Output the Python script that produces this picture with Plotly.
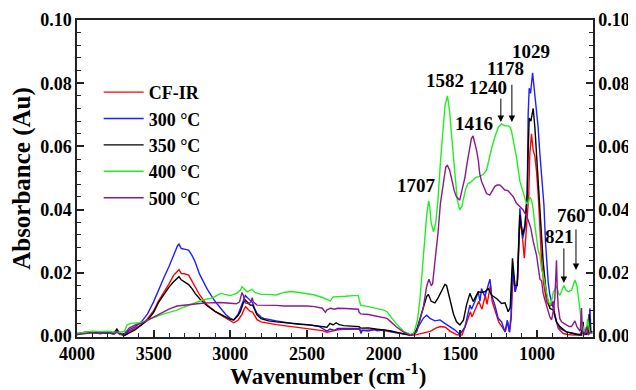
import plotly.graph_objects as go

# ---------------- data ----------------
wn_cfir = [4000, 3950, 3900, 3850, 3800, 3760, 3740, 3720, 3690, 3660, 3620, 3580, 3540, 3500, 3470, 3435, 3400, 3370, 3345, 3335, 3320, 3300, 3272, 3250, 3230, 3200, 3150, 3100, 3050, 3000, 2978, 2950, 2925, 2910, 2900, 2885, 2870, 2855, 2840, 2826, 2800, 2750, 2700, 2650, 2600, 2550, 2500, 2450, 2400, 2370, 2350, 2320, 2300, 2261, 2200, 2160, 2150, 2100, 2050, 2000, 1950, 1900, 1850, 1826, 1800, 1761, 1720, 1696, 1660, 1630, 1598, 1565, 1522, 1489, 1457, 1435, 1424, 1402, 1380, 1359, 1337, 1326, 1304, 1293, 1272, 1250, 1228, 1207, 1191, 1178, 1168, 1157, 1141, 1126, 1113, 1098, 1083, 1070, 1054, 1047, 1040, 1036, 1030, 1025, 1014, 1003, 992, 981, 970, 955, 938, 920, 905, 894, 884, 862, 829, 800, 764, 721, 699, 688, 675, 666, 655, 640]
abs_cfir = [0.0005, 0.001, 0.0012, 0.001, 0.0012, 0.0008, 0.0015, 0.0008, 0.0003, 0.0015, 0.0025, 0.0035, 0.0055, 0.008, 0.011, 0.0136, 0.0165, 0.0192, 0.0205, 0.021, 0.0198, 0.0197, 0.0193, 0.0175, 0.0155, 0.013, 0.0098, 0.0078, 0.0063, 0.0048, 0.0042, 0.005, 0.0068, 0.0085, 0.0093, 0.0085, 0.0078, 0.0076, 0.0062, 0.0052, 0.0045, 0.004, 0.0036, 0.0033, 0.003, 0.0028, 0.0025, 0.0022, 0.0017, 0.0012, 0.0014, 0.0018, 0.002, 0.0021, 0.0022, 0.0022, 0.0018, 0.0019, 0.002, 0.0017, 0.0013, 0.001, 0.0005, 0.0002, 0.0003, 0.0008, 0.0013, 0.0015, 0.0025, 0.003, 0.0028, 0.0015, 0.0004, 0.0003, 0.0045, 0.0077, 0.0061, 0.0088, 0.011, 0.0085, 0.0129, 0.01, 0.016, 0.011, 0.0077, 0.0045, 0.0029, 0.0013, 0.0045, 0.0012, 0.006, 0.0203, 0.014, 0.018, 0.036, 0.033, 0.0246, 0.033, 0.0446, 0.0578, 0.063, 0.064, 0.061, 0.0588, 0.057, 0.052, 0.0446, 0.034, 0.0235, 0.016, 0.0109, 0.0095, 0.0098, 0.011, 0.0067, 0.0024, 0.0008, 0.0005, 0.0003, 0.0004, 0.0024, 0.0005, 0.001, 0.0045, 0.0008, 0.001]

wn_300 = [4000, 3950, 3900, 3850, 3800, 3760, 3740, 3720, 3690, 3660, 3620, 3580, 3540, 3500, 3470, 3435, 3400, 3370, 3345, 3335, 3320, 3300, 3272, 3250, 3230, 3200, 3150, 3100, 3065, 3030, 3000, 2978, 2950, 2935, 2915, 2902, 2885, 2870, 2855, 2840, 2826, 2800, 2783, 2700, 2652, 2600, 2550, 2478, 2420, 2390, 2370, 2350, 2320, 2300, 2261, 2200, 2160, 2152, 2148, 2140, 2100, 2060, 2043, 2000, 1960, 1935, 1900, 1848, 1826, 1800, 1780, 1761, 1742, 1720, 1698, 1666, 1633, 1601, 1568, 1535, 1503, 1470, 1438, 1427, 1405, 1383, 1372, 1362, 1340, 1318, 1307, 1296, 1275, 1253, 1231, 1209, 1194, 1181, 1170, 1160, 1144, 1129, 1112, 1094, 1079, 1064, 1058, 1051, 1042, 1029, 1020, 1014, 1003, 993, 982, 971, 960, 955, 945, 938, 927, 916, 905, 894, 873, 851, 808, 764, 721, 699, 677, 662, 655, 648, 640]
abs_300 = [0.0008, 0.001, 0.0013, 0.001, 0.0012, 0.0008, 0.0018, 0.0008, 0.0003, 0.002, 0.003, 0.0045, 0.007, 0.0109, 0.0145, 0.0183, 0.022, 0.0256, 0.0285, 0.0291, 0.0277, 0.0275, 0.0272, 0.0255, 0.0235, 0.0195, 0.0148, 0.011, 0.0088, 0.0068, 0.0056, 0.0051, 0.0068, 0.0088, 0.011, 0.0128, 0.012, 0.0114, 0.0105, 0.0085, 0.0072, 0.006, 0.0056, 0.0048, 0.0043, 0.004, 0.0037, 0.0035, 0.003, 0.0022, 0.0016, 0.0022, 0.0018, 0.0024, 0.0024, 0.0023, 0.0024, 0.0015, 0.0008, 0.0018, 0.0016, 0.0022, 0.0017, 0.002, 0.0015, 0.0012, 0.001, 0.0005, 0.0003, 0.0008, 0.0025, 0.004, 0.0056, 0.0066, 0.0056, 0.0048, 0.0051, 0.004, 0.003, 0.0019, 0.0005, 0.0029, 0.0098, 0.0085, 0.011, 0.014, 0.011, 0.015, 0.0125, 0.016, 0.018, 0.0129, 0.0098, 0.0056, 0.0045, 0.0013, 0.005, 0.0013, 0.006, 0.0214, 0.014, 0.017, 0.0404, 0.0309, 0.034, 0.045, 0.07, 0.0784, 0.0768, 0.0833, 0.079, 0.0768, 0.072, 0.0662, 0.058, 0.0504, 0.043, 0.0415, 0.03, 0.0235, 0.017, 0.0129, 0.011, 0.0088, 0.0045, 0.0024, 0.0013, 0.001, 0.0005, 0.0013, 0.0005, 0.002, 0.0088, 0.001, 0.0015]

wn_350 = [4000, 3950, 3900, 3850, 3800, 3760, 3740, 3720, 3690, 3660, 3620, 3580, 3540, 3500, 3470, 3435, 3400, 3370, 3345, 3335, 3320, 3300, 3272, 3250, 3230, 3200, 3150, 3100, 3050, 3000, 2978, 2950, 2935, 2915, 2902, 2885, 2870, 2855, 2840, 2826, 2800, 2750, 2700, 2650, 2600, 2550, 2500, 2450, 2400, 2370, 2350, 2330, 2310, 2290, 2261, 2200, 2160, 2150, 2100, 2043, 2000, 1950, 1900, 1848, 1826, 1800, 1785, 1760, 1742, 1720, 1709, 1690, 1666, 1646, 1620, 1601, 1590, 1568, 1545, 1525, 1503, 1480, 1460, 1438, 1416, 1400, 1383, 1362, 1340, 1318, 1296, 1264, 1231, 1209, 1188, 1175, 1160, 1144, 1129, 1112, 1094, 1079, 1064, 1058, 1051, 1040, 1025, 1014, 1003, 990, 981, 970, 960, 938, 916, 894, 873, 851, 808, 742, 710, 699, 694, 666, 660, 652, 640]
abs_350 = [0.0005, 0.0012, 0.0012, 0.0008, 0.001, 0.0008, 0.0022, 0.0006, 0.0002, 0.001, 0.002, 0.0035, 0.005, 0.0075, 0.0105, 0.013, 0.0155, 0.0172, 0.0185, 0.0188, 0.0178, 0.0172, 0.0163, 0.015, 0.0135, 0.0118, 0.0095, 0.0078, 0.0065, 0.0053, 0.0051, 0.0065, 0.0077, 0.0105, 0.0114, 0.0105, 0.0098, 0.0098, 0.008, 0.0067, 0.0055, 0.0048, 0.0045, 0.0042, 0.004, 0.0038, 0.0036, 0.0033, 0.003, 0.0028, 0.004, 0.0035, 0.0042, 0.0036, 0.0033, 0.0032, 0.003, 0.0025, 0.0026, 0.0022, 0.002, 0.0016, 0.001, 0.0005, 0.0003, 0.001, 0.002, 0.006, 0.009, 0.0125, 0.0132, 0.011, 0.0105, 0.012, 0.0145, 0.0163, 0.016, 0.0119, 0.007, 0.0045, 0.0035, 0.005, 0.0098, 0.0135, 0.0109, 0.0125, 0.014, 0.0138, 0.014, 0.015, 0.0129, 0.0119, 0.0103, 0.0105, 0.0077, 0.009, 0.0246, 0.016, 0.016, 0.0383, 0.032, 0.035, 0.045, 0.058, 0.069, 0.068, 0.072, 0.066, 0.0578, 0.047, 0.038, 0.030, 0.0235, 0.013, 0.0088, 0.0082, 0.0045, 0.003, 0.0013, 0.0005, 0.0003, 0.0045, 0.0005, 0.0008, 0.007, 0.001, 0.0015]

wn_400 = [4000, 3950, 3900, 3850, 3800, 3760, 3720, 3690, 3674, 3650, 3620, 3590, 3550, 3500, 3450, 3400, 3348, 3300, 3250, 3217, 3180, 3130, 3100, 3065, 3040, 3000, 2960, 2935, 2924, 2910, 2890, 2870, 2858, 2840, 2800, 2750, 2700, 2652, 2600, 2550, 2500, 2450, 2400, 2370, 2348, 2330, 2300, 2250, 2200, 2165, 2160, 2150, 2100, 2050, 2000, 1978, 1960, 1920, 1870, 1826, 1804, 1780, 1764, 1742, 1720, 1707, 1700, 1690, 1675, 1660, 1646, 1630, 1613, 1600, 1584, 1570, 1558, 1545, 1536, 1520, 1504, 1490, 1482, 1465, 1450, 1438, 1417, 1400, 1374, 1350, 1329, 1308, 1296, 1275, 1253, 1232, 1210, 1190, 1178, 1167, 1155, 1134, 1112, 1101, 1085, 1069, 1058, 1047, 1036, 1025, 1014, 1003, 992, 981, 971, 960, 950, 938, 927, 916, 905, 894, 884, 873, 860, 851, 840, 825, 810, 796, 775, 760, 753, 740, 731, 720, 710, 700, 694, 688, 677, 670, 662, 655, 640]
abs_400 = [0.0008, 0.0012, 0.0015, 0.0014, 0.0015, 0.0013, 0.0012, 0.0015, 0.0035, 0.004, 0.004, 0.0042, 0.0048, 0.0058, 0.0068, 0.0075, 0.0082, 0.0092, 0.0102, 0.0109, 0.0114, 0.0119, 0.0125, 0.0135, 0.0133, 0.0128, 0.0135, 0.0145, 0.0156, 0.0148, 0.014, 0.0145, 0.0148, 0.0138, 0.0132, 0.0132, 0.013, 0.0138, 0.0141, 0.0138, 0.0135, 0.013, 0.0122, 0.0115, 0.0111, 0.0124, 0.0124, 0.0126, 0.0128, 0.0128, 0.0115, 0.0098, 0.0093, 0.0088, 0.0082, 0.0077, 0.0065, 0.004, 0.0015, 0.0005, 0.0008, 0.005, 0.0114, 0.025, 0.038, 0.0428, 0.041, 0.0357, 0.033, 0.036, 0.043, 0.055, 0.066, 0.073, 0.076, 0.071, 0.064, 0.056, 0.050, 0.043, 0.0399, 0.041, 0.043, 0.0465, 0.0483, 0.0485, 0.0494, 0.0502, 0.0505, 0.0512, 0.0525, 0.0575, 0.0595, 0.063, 0.066, 0.0671, 0.0665, 0.0665, 0.0663, 0.065, 0.062, 0.0565, 0.049, 0.047, 0.0445, 0.042, 0.042, 0.044, 0.043, 0.040, 0.035, 0.030, 0.027, 0.0256, 0.021, 0.0195, 0.0165, 0.0129, 0.011, 0.0098, 0.011, 0.014, 0.0145, 0.016, 0.0135, 0.0129, 0.0145, 0.016, 0.0145, 0.014, 0.0145, 0.0172, 0.0177, 0.016, 0.013, 0.008, 0.0045, 0.003, 0.0012, 0.002, 0.0024, 0.0055, 0.002, 0.0008, 0.001]

wn_500 = [4000, 3950, 3900, 3850, 3800, 3760, 3740, 3720, 3690, 3660, 3620, 3580, 3540, 3500, 3450, 3400, 3348, 3300, 3250, 3200, 3150, 3100, 3065, 3000, 2960, 2940, 2924, 2915, 2902, 2880, 2866, 2858, 2850, 2826, 2800, 2700, 2652, 2600, 2550, 2500, 2450, 2400, 2385, 2380, 2372, 2348, 2320, 2300, 2250, 2200, 2165, 2160, 2150, 2100, 2050, 2000, 1978, 1960, 1920, 1870, 1826, 1800, 1783, 1764, 1742, 1720, 1705, 1690, 1681, 1666, 1646, 1630, 1613, 1595, 1584, 1570, 1558, 1540, 1526, 1504, 1490, 1471, 1455, 1439, 1428, 1417, 1405, 1395, 1383, 1374, 1362, 1341, 1329, 1308, 1290, 1276, 1260, 1243, 1225, 1210, 1190, 1167, 1155, 1134, 1112, 1090, 1070, 1058, 1040, 1025, 1003, 992, 981, 970, 960, 949, 938, 927, 916, 905, 894, 884, 878, 873, 868, 862, 851, 840, 825, 808, 790, 775, 760, 753, 740, 731, 718, 710, 705, 699, 688, 677, 666, 655, 640]
abs_500 = [0.0005, 0.0008, 0.001, 0.0008, 0.001, 0.0006, 0.0012, 0.0005, 0.0008, 0.0025, 0.0035, 0.004, 0.005, 0.0062, 0.0075, 0.0085, 0.0095, 0.0098, 0.0101, 0.0103, 0.0105, 0.0106, 0.0106, 0.0104, 0.0102, 0.0108, 0.0138, 0.0128, 0.0105, 0.0102, 0.0108, 0.0121, 0.0108, 0.0098, 0.0098, 0.0097, 0.0095, 0.0095, 0.0097, 0.0095, 0.0093, 0.0088, 0.0078, 0.0075, 0.0082, 0.0088, 0.0085, 0.0088, 0.0087, 0.0086, 0.0085, 0.0075, 0.007, 0.0068, 0.0064, 0.006, 0.0056, 0.0048, 0.003, 0.0012, 0.0003, 0.0005, 0.0015, 0.005, 0.009, 0.0156, 0.018, 0.016, 0.0165, 0.0235, 0.0325, 0.042, 0.0483, 0.0535, 0.054, 0.0525, 0.050, 0.046, 0.0441, 0.043, 0.046, 0.050, 0.055, 0.060, 0.0625, 0.0633, 0.061, 0.0589, 0.0557, 0.0515, 0.049, 0.0462, 0.0451, 0.0446, 0.046, 0.0473, 0.0478, 0.0478, 0.047, 0.0462, 0.046, 0.0446, 0.0441, 0.042, 0.041, 0.0399, 0.038, 0.0367, 0.034, 0.030, 0.0255, 0.022, 0.018, 0.0175, 0.0135, 0.0115, 0.0095, 0.0072, 0.006, 0.0051, 0.008, 0.012, 0.018, 0.024, 0.015, 0.0093, 0.0055, 0.0045, 0.004, 0.0035, 0.003, 0.003, 0.0042, 0.0048, 0.003, 0.0022, 0.0015, 0.0089, 0.002, 0.0006, 0.0006, 0.003, 0.0003, 0.0012, 0.001]

series_names = ["CF-IR", "300 °C", "350 °C", "400 °C", "500 °C"]
series_colors = ["#ff0000", "#1f1fff", "#000000", "#22ee22", "#8a1a8a"]

x_ticks = [4000, 3500, 3000, 2500, 2000, 1500, 1000]
y_ticks = [0.00, 0.02, 0.04, 0.06, 0.08, 0.10]

x_title = "Wavenumber (cm<sup>-1</sup>)"
y_title = "Absorbance (Au)"

peak_labels = ["1707", "1582", "1416", "1240", "1178", "1029", "821", "760"]
peak_label_wn = [1783, 1600, 1412, 1322, 1203, 1040, 851, 773]
peak_label_abs = [0.0475, 0.0810, 0.0671, 0.0785, 0.0848, 0.0899, 0.0316, 0.0380]

arrow_wn = [1236, 1164, 825, 746]
arrow_head = [0.0677, 0.0677, 0.0168, 0.0209]
arrow_tail = [0.0756, 0.0800, 0.0282, 0.0342]

# ---------------- figure ----------------
FONT = "Liberation Serif, Times New Roman, serif"
fig = go.Figure()
xs = [wn_cfir, wn_300, wn_350, wn_400, wn_500]
ys = [abs_cfir, abs_300, abs_350, abs_400, abs_500]
for name, col, x, y in zip(series_names, series_colors, xs, ys):
    fig.add_trace(go.Scatter(x=x, y=y, mode="lines", name=name,
                             line=dict(color=col, width=1.4)))
# right-hand mirror axis carrier
fig.add_trace(go.Scatter(x=[], y=[], yaxis="y2", showlegend=False, hoverinfo="skip"))

for t, xw, ya in zip(peak_labels, peak_label_wn, peak_label_abs):
    fig.add_annotation(x=xw, y=ya, text="<b>" + t + "</b>", showarrow=False, xref="x", yref="y",
                       font=dict(family=FONT, size=19, color="#000"))
for xw, yh, yt in zip(arrow_wn, arrow_head, arrow_tail):
    fig.add_annotation(x=xw, y=yh, ax=xw, ay=yt, axref="x", ayref="y", xref="x", yref="y",
                       text="", showarrow=True, arrowhead=2, arrowsize=1.3,
                       arrowwidth=1, arrowcolor="#000")
# x-axis title (placed as paper annotation so it sits like the reference)
fig.add_annotation(x=0.487, y=-0.117, xref="paper", yref="paper", xanchor="center", yanchor="middle",
                   text="<b>" + x_title + "</b>", showarrow=False,
                   font=dict(family=FONT, size=23, color="#000"))

tickfont = dict(family=FONT, size=18, color="#000", weight="bold")
axis_line = dict(showline=True, linecolor="#222", linewidth=1.5)
fig.update_layout(
    template="none",
    width=636, height=390,
    margin=dict(l=69, r=51, t=12, b=61),
    paper_bgcolor="white", plot_bgcolor="white",
    font=dict(family=FONT, color="#000"),
    showlegend=True,
    legend=dict(x=0.042, y=0.83, xanchor="left", yanchor="top",
                bgcolor="rgba(0,0,0,0)", font=dict(family=FONT, size=18, color="#000", weight="bold"),
                itemwidth=40, tracegroupgap=0),
    xaxis=dict(range=[4000, 635], tickvals=x_ticks, ticks="inside", ticklen=7, tickwidth=1.5,
               tickcolor="#222", mirror=True, showgrid=False, zeroline=False, automargin=False,
               tickfont=tickfont,
               minor=dict(dtick=100, tick0=0, ticks="inside", ticklen=4, tickwidth=1.2, tickcolor="#222"),
               **axis_line),
    yaxis=dict(range=[-0.0003, 0.1], tickvals=y_ticks, tickformat=".2f", ticks="inside",
               ticklen=7, tickwidth=1.5, tickcolor="#222", showgrid=False, zeroline=False,
               automargin=False, tickfont=tickfont,
               minor=dict(dtick=0.004, tick0=0, ticks="inside", ticklen=4, tickwidth=1.2, tickcolor="#222"),
               title=dict(text="<b>" + y_title + "</b>", standoff=4,
                          font=dict(family=FONT, size=25, color="#000")),
               **axis_line),
    yaxis2=dict(range=[-0.0003, 0.1], overlaying="y", side="right", tickvals=y_ticks,
                tickformat=".2f", ticks="inside", ticklen=7, tickwidth=1.5, tickcolor="#222",
                showgrid=False, zeroline=False, automargin=False, tickfont=tickfont,
                minor=dict(dtick=0.004, tick0=0, ticks="inside", ticklen=4, tickwidth=1.2, tickcolor="#222"),
                **axis_line),
)

fig.write_html("out.html")
